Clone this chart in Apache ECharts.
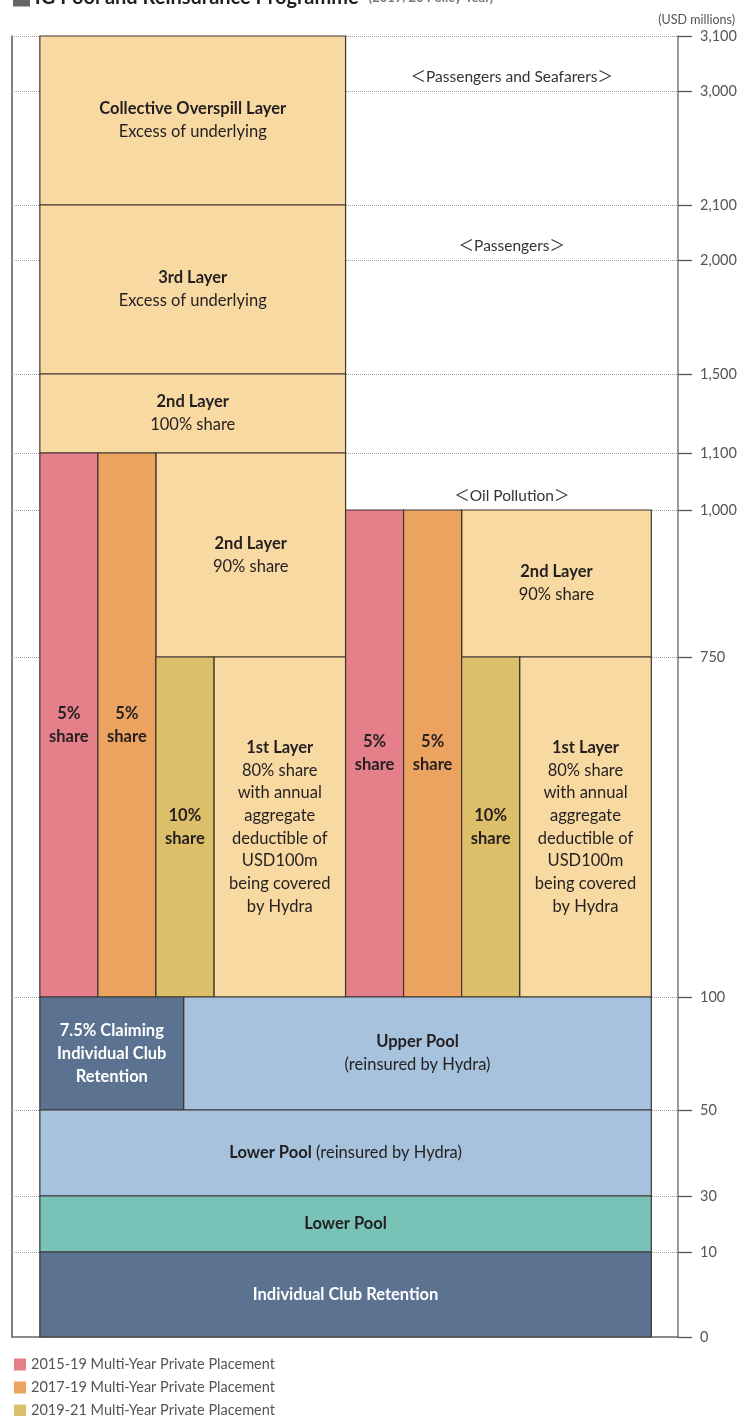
<!DOCTYPE html>
<html>
<head>
<meta charset="utf-8">
<script src="https://cdn.jsdelivr.net/npm/echarts@6/dist/echarts.min.js"></script>
<style>
  html, body { margin: 0; padding: 0; background: #fff; }
  #chart { width: 752px; height: 1416px; }
</style>
</head>
<body>
<div id="chart"></div>
<script>
// USD millions, tick labels on the right axis
const yTicks = [0, 10, 30, 50, 100, 750, 1000, 1100, 1500, 2000, 2100, 3000, 3100];
// where each tick sits on the (broken) axis, counted from the bottom
const tickPos = [0, 85, 141, 227, 340, 680, 827, 884, 963, 1077, 1132, 1246, 1301];

// column edges: narrow columns are 1 unit, wide ones 2.27; last one is the 7.5% split
const colEdge = [0, 1, 2, 3, 5.27, 6.27, 7.27, 8.27, 10.54, 2.48];

// [fromCol, toCol, low, high]
const placement1519 = [[0, 1, 100, 1100], [4, 5, 100, 1000]];
const placement1719 = [[1, 2, 100, 1100], [5, 6, 100, 1000]];
const placement1921 = [[2, 3, 100, 750], [6, 7, 100, 750]];

const firstLayerText = '80% share\nwith annual\naggregate\ndeductible of\nUSD100m\nbeing covered\nby Hydra';

// [fromCol, toCol, low, high, title, note]
const marketLayers = [
  [0, 4, 2100, 3100, 'Collective Overspill Layer', 'Excess of underlying'],
  [0, 4, 1500, 2100, '3rd Layer', 'Excess of underlying'],
  [0, 4, 1100, 1500, '2nd Layer', '100% share'],
  [2, 4, 750, 1100, '2nd Layer', '90% share'],
  [3, 4, 100, 750, '1st Layer', firstLayerText],
  [6, 8, 750, 1000, '2nd Layer', '90% share'],
  [7, 8, 100, 750, '1st Layer', firstLayerText]
];

// [fromCol, toCol, low, high, kind, title, note, oneLine]
const poolLayers = [
  [0, 9, 50, 100, 'club', '7.5% Claiming\nIndividual Club\nRetention', '', false],
  [9, 8, 50, 100, 'pool', 'Upper Pool', '(reinsured by Hydra)', false],
  [0, 8, 30, 50, 'pool', 'Lower Pool', ' (reinsured by Hydra)', true],
  [0, 8, 10, 30, 'lower', 'Lower Pool', '', false],
  [0, 8, 0, 10, 'club', 'Individual Club Retention', '', false]
];

// [label, limit]
const covers = [
  ['＜Passengers and Seafarers＞', 3000],
  ['＜Passengers＞', 2000],
  ['＜Oil Pollution＞', 1000]
];

const names = [
  '2015-19 Multi-Year Private Placement',
  '2017-19 Multi-Year Private Placement',
  '2019-21 Multi-Year Private Placement'
];

const C = {
  pink: '#E57F8A',
  orange: '#ECA35F',
  mustard: '#DEBF69',
  tan: '#F8D9A2',
  club: '#5B7391',
  pool: '#A6C2DC',
  lower: '#79C2B7',
  edge: '#3b3531',
  ink: '#231F20'
};
const FONT = 'Lato, "Open Sans", sans-serif';
const X_MIN = -0.48, X_MAX = 11;
const FS = 16.5;

function toAxis(v) {
  for (let i = 1; i < yTicks.length; i++) {
    if (v <= yTicks[i]) {
      const t = (v - yTicks[i - 1]) / (yTicks[i] - yTicks[i - 1]);
      return tickPos[i - 1] + t * (tickPos[i] - tickPos[i - 1]);
    }
  }
  return tickPos[tickPos.length - 1];
}

function toItem(b) {
  return { value: [colEdge[b[0]], colEdge[b[1]], toAxis(b[2]), toAxis(b[3])] };
}

function boxRenderer(fillOf, textOf) {
  return function (params, api) {
    const p0 = api.coord([api.value(0), api.value(3)]);
    const p1 = api.coord([api.value(1), api.value(2)]);
    const txt = textOf(params.dataIndex);
    return {
      type: 'rect',
      shape: { x: p0[0], y: p0[1], width: p1[0] - p0[0], height: p1[1] - p0[1] },
      style: { fill: fillOf(params.dataIndex), stroke: C.edge, lineWidth: 1.2 },
      textContent: {
        style: {
          text: txt.text,
          align: 'center',
          verticalAlign: 'middle',
          fontFamily: FONT,
          rich: {
            b: { fontWeight: 'bold', fontSize: FS, lineHeight: 22.7, fill: txt.color, fontFamily: FONT },
            n: { fontSize: FS, lineHeight: 22.7, fill: txt.color, fontFamily: FONT }
          }
        }
      },
      textConfig: { position: 'inside' }
    };
  };
}

const shareText = (s) => () => ({ text: '{b|' + s + '\nshare}', color: C.ink });

function placementSeries(name, blocks, color, share) {
  return {
    type: 'custom',
    name: name,
    z: 3,
    itemStyle: { color: color },
    renderItem: boxRenderer(() => color, shareText(share)),
    encode: { x: [0, 1], y: [2, 3] },
    data: blocks.map(toItem)
  };
}

const chart = echarts.init(document.getElementById('chart'));

chart.setOption({
  animation: false,
  title: [
    {
      text: '{sq|}{t| IG Pool and Reinsurance Programme}  {s|(2019/20 Policy Year)}',
      left: 8,
      top: -17,
      textStyle: {
        rich: {
          sq: { width: 17, height: 17, backgroundColor: '#666' },
          t: { fontSize: 20, fontWeight: 'bold', color: C.ink, fontFamily: FONT },
          s: { fontSize: 13, color: '#777', fontFamily: FONT }
        }
      }
    },
    {
      text: '(USD millions)',
      right: 12,
      top: 8,
      textStyle: { fontSize: 12.5, fontWeight: 'normal', color: '#555', fontFamily: FONT }
    }
  ],
  legend: {
    data: names,
    orient: 'vertical',
    left: 14,
    top: 1357,
    height: 90,
    padding: 0,
    icon: 'rect',
    itemWidth: 12,
    itemHeight: 12,
    itemGap: 8,
    selectedMode: false,
    textStyle: { fontSize: 14.5, color: '#555', fontFamily: FONT }
  },
  grid: { left: 12, right: 74, top: 36, height: 1301 },
  xAxis: {
    type: 'value',
    min: X_MIN,
    max: X_MAX,
    axisLine: { show: true, onZero: false, lineStyle: { color: '#666', width: 1.5 } },
    axisTick: { show: false },
    axisLabel: { show: false },
    splitLine: { show: false }
  },
  yAxis: [
    {
      type: 'value',
      position: 'right',
      min: 0,
      max: tickPos[tickPos.length - 1],
      axisLine: { show: true, onZero: false, lineStyle: { color: '#7a7a7a', width: 1.5 } },
      axisTick: { show: true, length: 14, customValues: tickPos, lineStyle: { color: '#555', width: 1.3 } },
      axisLabel: {
        customValues: tickPos,
        margin: 22,
        fontSize: 14.5,
        color: '#555',
        fontFamily: FONT,
        formatter: (v) => {
          const i = tickPos.indexOf(v);
          return i < 0 ? '' : yTicks[i].toLocaleString('en-US');
        }
      },
      splitLine: { show: false }
    },
    {
      type: 'value',
      position: 'left',
      min: 0,
      max: tickPos[tickPos.length - 1],
      axisLine: { show: true, onZero: false, lineStyle: { color: '#555', width: 1.5 } },
      axisTick: { show: false },
      axisLabel: { show: false },
      splitLine: { show: false }
    }
  ],
  series: [
    {
      type: 'custom',
      name: 'layers',
      z: 3,
      renderItem: boxRenderer(() => C.tan, (i) => ({
        text: '{b|' + marketLayers[i][4] + '}\n{n|' + marketLayers[i][5] + '}',
        color: C.ink
      })),
      encode: { x: [0, 1], y: [2, 3] },
      data: marketLayers.map(toItem),
      markLine: {
        silent: true,
        z: 1,
        symbol: 'none',
        label: { show: false },
        lineStyle: { type: 'dotted', color: '#999', width: 1 },
        data: tickPos.slice(1).map((p) => ({ yAxis: p }))
      }
    },
    placementSeries(names[0], placement1519, C.pink, '5%'),
    placementSeries(names[1], placement1719, C.orange, '5%'),
    placementSeries(names[2], placement1921, C.mustard, '10%'),
    {
      type: 'custom',
      name: 'pools',
      z: 3,
      renderItem: boxRenderer((i) => C[poolLayers[i][4]], (i) => {
        const b = poolLayers[i];
        let text = '{b|' + b[5] + '}';
        if (b[6]) text += (b[7] ? '' : '\n') + '{n|' + b[6] + '}';
        return { text: text, color: b[4] === 'club' ? '#fff' : C.ink };
      }),
      encode: { x: [0, 1], y: [2, 3] },
      data: poolLayers.map(toItem)
    },
    {
      type: 'custom',
      name: 'covers',
      z: 4,
      renderItem: function (params, api) {
        const p = api.coord([api.value(0), api.value(1)]);
        return {
          type: 'text',
          x: p[0],
          y: p[1] - 6,
          style: {
            text: covers[params.dataIndex][0],
            align: 'center',
            verticalAlign: 'bottom',
            fontSize: 15.5,
            fontFamily: 'Lato, "Noto Sans CJK JP", sans-serif',
            fill: '#333'
          }
        };
      },
      encode: { x: 0, y: 1 },
      data: covers.map((c) => [(colEdge[4] + X_MAX) / 2, toAxis(c[1])])
    }
  ]
});
</script>
</body>
</html>
